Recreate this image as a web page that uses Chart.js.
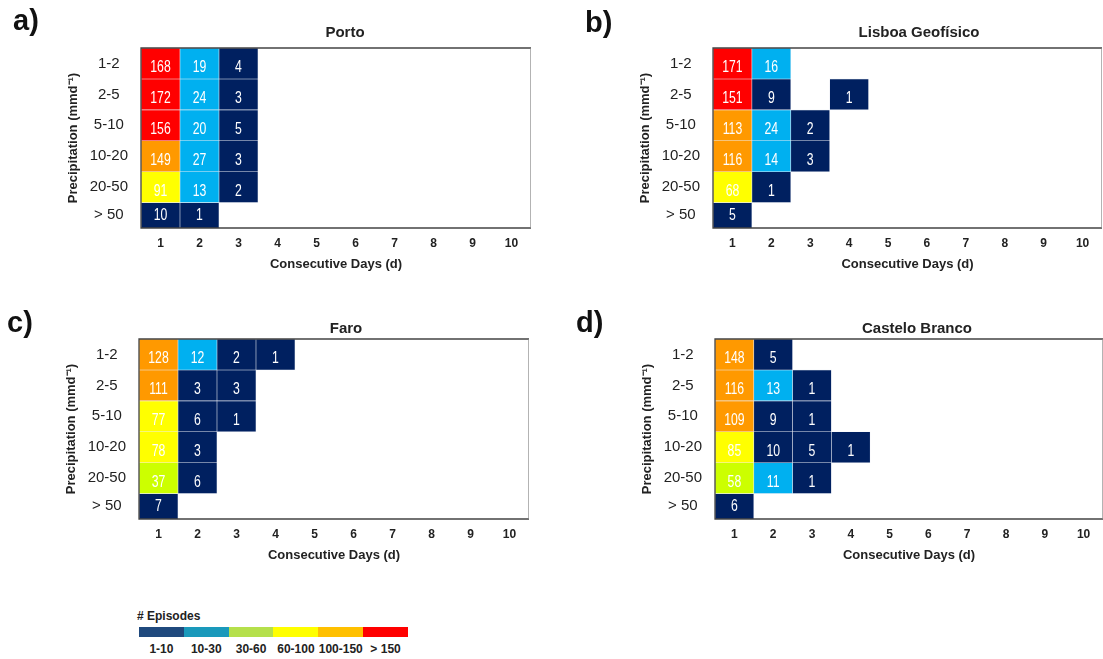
<!DOCTYPE html>
<html>
<head>
<meta charset="utf-8">
<script src="https://cdn.jsdelivr.net/npm/chart.js@4"></script>
<style>
  body { margin: 0; background: #fff; overflow: hidden; width: 1103px; height: 659px; position: relative; font-family: 'Liberation Sans', Arial, sans-serif; }
  .panel { position: absolute; height: 272px; }
  #legendTitle { position: absolute; left: 137px; top: 609px; font-size: 12px; font-weight: bold; color: #222; }
  #legendBar { position: absolute; left: 139px; top: 627px; width: 269px; height: 10px; display: flex; }
  #legendBar div { flex: 1; }
  #legendLabels { position: absolute; left: 139px; top: 642px; width: 269px; display: flex; font-size: 12px; font-weight: bold; color: #222; }
  #legendLabels span { flex: 1; text-align: center; white-space: nowrap; }
</style>
</head>
<body>
<div class="panel" style="left:0px;top:0px;width:531px"><canvas id="chartA"></canvas></div>
<div class="panel" style="left:572px;top:0px;width:530px"><canvas id="chartB"></canvas></div>
<div class="panel" style="left:-2px;top:291px;width:531px"><canvas id="chartC"></canvas></div>
<div class="panel" style="left:574px;top:291px;width:529px"><canvas id="chartD"></canvas></div>

<div id="legendTitle"># Episodes</div>
<div id="legendBar"></div>
<div id="legendLabels"></div>

<script>
// precipitation classes (top to bottom) and consecutive days
let classes = ['1-2', '2-5', '5-10', '10-20', '20-50', '> 50'];
let days = ['1', '2', '3', '4', '5', '6', '7', '8', '9', '10'];

// number of episodes per class, index = consecutive days - 1
let porto = [
    [168, 19, 4],
    [172, 24, 3],
    [156, 20, 5],
    [149, 27, 3],
    [91, 13, 2],
    [10, 1]
];
let lisboa = [
    [171, 16],
    [151, 9, null, 1],
    [113, 24, 2],
    [116, 14, 3],
    [68, 1],
    [5]
];
let faro = [
    [128, 12, 2, 1],
    [111, 3, 3],
    [77, 6, 1],
    [78, 3],
    [37, 6],
    [7]
];
let casteloBranco = [
    [148, 5],
    [116, 13, 1],
    [109, 9, 1],
    [85, 10, 5, 1],
    [58, 11, 1],
    [6]
];

// colour classes
let binLimits = [10, 30, 60, 100, 150];
let cellColors = ['#002060', '#00b0f0', '#ccff00', '#ffff00', '#ff9900', '#ff0000'];
let legendColors = ['#1f497d', '#1a99bb', '#b5e04b', '#ffff00', '#ffc000', '#ff0000'];
let legendLabels = ['1-10', '10-30', '30-60', '60-100', '100-150', '> 150'];

let yMin = 0.18;
let yMax = 6;

function colorFor(v) {
    let i = 0;
    while (i < binLimits.length && v > binLimits[i]) i++;
    return cellColors[i];
}

let cellLabels = {
    id: 'cellLabels',
    afterDatasetsDraw(chart) {
        let ctx = chart.ctx;
        let area = chart.chartArea;
        ctx.save();
        ctx.fillStyle = '#ffffff';
        ctx.font = "17px 'Liberation Sans', Arial, sans-serif";
        ctx.textAlign = 'center';
        ctx.textBaseline = 'middle';
        chart.data.datasets.forEach((ds, di) => {
            let meta = chart.getDatasetMeta(di);
            meta.data.forEach((bar, i) => {
                let v = ds.counts[i];
                if (v == null) return;
                let top = Math.max(Math.min(bar.y, bar.base), area.top);
                let bottom = Math.min(Math.max(bar.y, bar.base), area.bottom);
                let clipped = Math.max(bar.y, bar.base) > area.bottom + 1;
                // narrow the numbers like a condensed face
                ctx.save();
                ctx.translate(bar.x, (top + bottom) / 2 + (clipped ? 0 : 4));
                ctx.scale(0.72, 1);
                ctx.fillText(String(v), 0, 0);
                ctx.restore();
            });
        });
        // frame
        ctx.lineWidth = 1.3;
        ctx.strokeStyle = '#444';
        ctx.beginPath();
        ctx.moveTo(area.right, area.top);
        ctx.lineTo(area.left, area.top);
        ctx.lineTo(area.left, area.bottom);
        ctx.lineTo(area.right, area.bottom);
        ctx.stroke();
        ctx.strokeStyle = '#8a8a8a';
        ctx.beginPath();
        ctx.moveTo(area.right, area.top);
        ctx.lineTo(area.right, area.bottom);
        ctx.stroke();
        ctx.restore();
    }
};

let panelText = {
    id: 'panelText',
    afterDraw(chart, args, opts) {
        let ctx = chart.ctx;
        ctx.save();
        ctx.fillStyle = '#111';
        ctx.textBaseline = 'alphabetic';
        ctx.font = "bold 29px 'Liberation Sans', Arial, sans-serif";
        ctx.textAlign = 'left';
        ctx.fillText(opts.letter, opts.letterX, opts.letterY);
        ctx.font = "bold 15px 'Liberation Sans', Arial, sans-serif";
        ctx.textAlign = 'center';
        ctx.fillStyle = '#222';
        ctx.fillText(opts.title, opts.titleX, opts.titleY);
        ctx.restore();
    }
};

Chart.defaults.font.family = "'Liberation Sans', Arial, sans-serif";
Chart.defaults.color = '#222';

function rowTick(r) {
    // centre of the visible part of each row
    return (Math.max(r, yMin) + r + 1) / 2;
}

function makePanel(canvasId, counts, text) {
    let datasets = classes.map((cls, r) => {
        let lo = classes.length - 1 - r;
        let row = days.map((d, i) => counts[r][i] == null ? null : counts[r][i]);
        return {
            label: cls,
            counts: row,
            data: row.map(v => v == null ? null : [lo, lo + 1]),
            backgroundColor: row.map(v => v == null ? 'rgba(0,0,0,0)' : colorFor(v)),
            borderColor: 'rgba(210,215,230,0.35)',
            borderWidth: 0.6,
            borderSkipped: false,
            grouped: false,
            barPercentage: 1,
            categoryPercentage: 1,
            clip: 0
        };
    });

    new Chart(document.getElementById(canvasId), {
        type: 'bar',
        data: { labels: days, datasets: datasets },
        options: {
            responsive: true,
            maintainAspectRatio: false,
            animation: false,
            layout: { padding: { left: 66, top: 48, right: 0, bottom: 0 } },
            plugins: {
                legend: { display: false },
                tooltip: { enabled: false },
                panelText: text
            },
            scales: {
                x: {
                    grid: { display: false },
                    border: { display: false },
                    ticks: { font: { size: 12, weight: 'bold' }, padding: 0 },
                    title: { display: true, text: 'Consecutive Days (d)', font: { size: 13, weight: 'bold' }, padding: 0 },
                    afterFit(s) { s.height = 44; }
                },
                y: {
                    min: yMin,
                    max: yMax,
                    grid: { display: false },
                    border: { display: false },
                    afterBuildTicks(s) {
                        s.ticks = classes.map((c, r) => ({ value: rowTick(classes.length - 1 - r) }));
                    },
                    ticks: {
                        crossAlign: 'center',
                        padding: 5,
                        font: { size: 15 },
                        callback(value, index) { return classes[index]; }
                    },
                    title: { display: true, text: 'Precipitation (mmd⁻¹)', font: { size: 13, weight: 'bold' }, padding: 0 },
                    afterFit(s) { s.width = 75; }
                }
            }
        },
        plugins: [cellLabels, panelText]
    });
}

makePanel('chartA', porto, { letter: 'a)', letterX: 13, letterY: 30, title: 'Porto', titleX: 345, titleY: 36.5 });
makePanel('chartB', lisboa, { letter: 'b)', letterX: 13, letterY: 32, title: 'Lisboa Geofísico', titleX: 347, titleY: 36.5 });
makePanel('chartC', faro, { letter: 'c)', letterX: 9, letterY: 40.5, title: 'Faro', titleX: 348, titleY: 42 });
makePanel('chartD', casteloBranco, { letter: 'd)', letterX: 2, letterY: 41, title: 'Castelo Branco', titleX: 343, titleY: 42 });

// legend
let bar = document.getElementById('legendBar');
let labelsRow = document.getElementById('legendLabels');
legendColors.forEach((c, i) => {
    let div = document.createElement('div');
    div.style.background = c;
    bar.appendChild(div);
    let span = document.createElement('span');
    span.innerText = legendLabels[i];
    labelsRow.appendChild(span);
});
</script>
</body>
</html>
